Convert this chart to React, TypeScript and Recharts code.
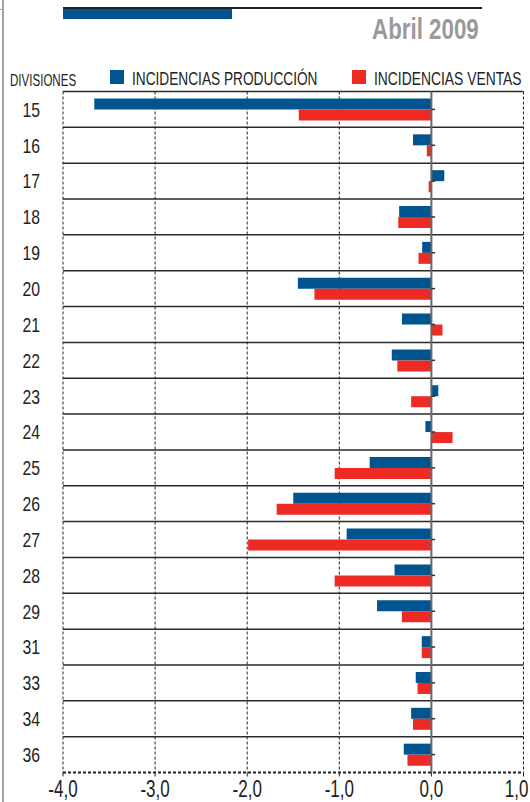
import React from 'react';
import { BarChart, Bar, XAxis, YAxis, CartesianGrid, ReferenceLine } from 'recharts';

const divisiones = ['15', '16', '17', '18', '19', '20', '21', '22', '23', '24', '25', '26', '27', '28', '29', '31', '33', '34', '36'];
const produccion = [-3.66, -0.2, 0.14, -0.35, -0.1, -1.45, -0.32, -0.43, 0.075, -0.065, -0.67, -1.5, -0.92, -0.4, -0.59, -0.105, -0.17, -0.22, -0.3];
const ventas = [-1.44, -0.05, -0.03, -0.36, -0.14, -1.27, 0.12, -0.37, -0.22, 0.23, -1.05, -1.68, -1.99, -1.05, -0.32, -0.105, -0.15, -0.2, -0.26];
const xTicks = [-4, -3, -2, -1, 0, 1];

const data = divisiones.map((d, i) => ({ div: d, prod: produccion[i], ventas: ventas[i] }));

const BLUE = '#00548f';
const RED = '#ee2a24';
const FONT = '"Liberation Sans", Arial, sans-serif';

const CatTick = (props: any) => {
  const { y, payload } = props;
  return (
    <text
      transform={`translate(40, ${y}) scale(0.75, 1)`}
      textAnchor="end"
      dominantBaseline="central"
      fontSize={21}
      fontFamily={FONT}
      fill="#222"
    >
      {payload.value}
    </text>
  );
};

const NumTick = (props: any) => {
  const { x, y, payload } = props;
  const v = Number(payload.value);
  const label = v.toFixed(1).replace('.', ',');
  const isLast = v === xTicks[xTicks.length - 1];
  return (
    <text
      transform={`translate(${isLast ? x + 5 : x}, ${y + 10.5}) scale(0.74, 1)`}
      textAnchor={isLast ? 'end' : 'middle'}
      dominantBaseline="central"
      fontSize={23}
      fontFamily={FONT}
      fill="#222"
    >
      {label}
    </text>
  );
};

const hGen = (props: any) => {
  const off = props?.offset;
  const top = off && typeof off.top === 'number' ? off.top : 91.5;
  const h = off && typeof off.height === 'number' ? off.height : 681;
  return divisiones.map((_, i) => top + (i * h) / divisiones.length);
};

const legendText = (text: string, left: number, top: number, size: number, sx: number) => (
  <div
    style={{
      position: 'absolute',
      left,
      top,
      fontFamily: FONT,
      fontSize: size,
      lineHeight: `${size}px`,
      color: '#222',
      whiteSpace: 'nowrap',
      transform: `scaleX(${sx})`,
      transformOrigin: 'left center',
    }}
  >
    {text}
  </div>
);

export default function App() {
  return (
    <div style={{ position: 'absolute', left: 0, top: 0, width: 530, height: 802, background: '#fff', overflow: 'hidden' }}>
      <div style={{ position: 'absolute', left: 2, top: 0, width: 2, height: 802, background: '#a3a3a3' }} />
      <div style={{ position: 'absolute', left: 0, top: 9, width: 3, height: 1, background: '#a3a3a3' }} />
      <div style={{ position: 'absolute', left: 63, top: 7, width: 419, height: 1.5, background: '#222' }} />
      <div style={{ position: 'absolute', left: 63, top: 8.5, width: 169, height: 10.5, background: BLUE }} />
      <div
        style={{
          position: 'absolute',
          left: 372,
          top: 15,
          fontFamily: FONT,
          fontWeight: 'bold',
          fontSize: 29,
          lineHeight: '29px',
          color: '#9a9a9a',
          whiteSpace: 'nowrap',
          transform: 'scaleX(0.77)',
          transformOrigin: 'left center',
        }}
      >
        Abril 2009
      </div>
      {legendText('DIVISIONES', 10, 71.5, 16.5, 0.7)}
      <div style={{ position: 'absolute', left: 110, top: 69.5, width: 14, height: 14, background: BLUE }} />
      {legendText('INCIDENCIAS PRODUCCIÓN', 132, 70, 18, 0.76)}
      <div style={{ position: 'absolute', left: 352, top: 69.5, width: 14, height: 14, background: RED }} />
      {legendText('INCIDENCIAS VENTAS', 373.5, 70, 18, 0.77)}
      <div style={{ position: 'absolute', left: 0, top: 0 }}>
        <BarChart
          width={530}
          height={802}
          data={data}
          layout="vertical"
          margin={{ top: 91.5, right: 6.5, bottom: 0, left: 0 }}
          barCategoryGap="19.5%"
          barGap={0}
        >
          <CartesianGrid vertical={false} horizontalCoordinatesGenerator={hGen} stroke="#2a2a2a" strokeWidth={1.5} />
          <CartesianGrid horizontal={false} stroke="#222" strokeDasharray="3 2" strokeWidth={1} />
          <XAxis
            type="number"
            domain={[-4, 1]}
            ticks={xTicks}
            interval={0}
            height={29.5}
            axisLine={{ stroke: '#222', strokeDasharray: '3 2', strokeWidth: 2 }}
            tickLine={{ stroke: '#222' }}
            tickSize={4}
            tick={<NumTick />}
          />
          <YAxis type="category" dataKey="div" width={63} axisLine={false} tickLine={false} tick={<CatTick />} interval={0} />
          <Bar dataKey="prod" fill={BLUE} isAnimationActive={false} />
          <Bar dataKey="ventas" fill={RED} isAnimationActive={false} />
          <ReferenceLine x={0} stroke="#6a6a6a" strokeWidth={2} />
          {divisiones.map((d) => (
            <ReferenceLine
              key={d}
              segment={[
                { x: 0, y: d },
                { x: 0.04, y: d },
              ]}
              stroke="#333"
              strokeWidth={1.5}
            />
          ))}
        </BarChart>
      </div>
    </div>
  );
}
